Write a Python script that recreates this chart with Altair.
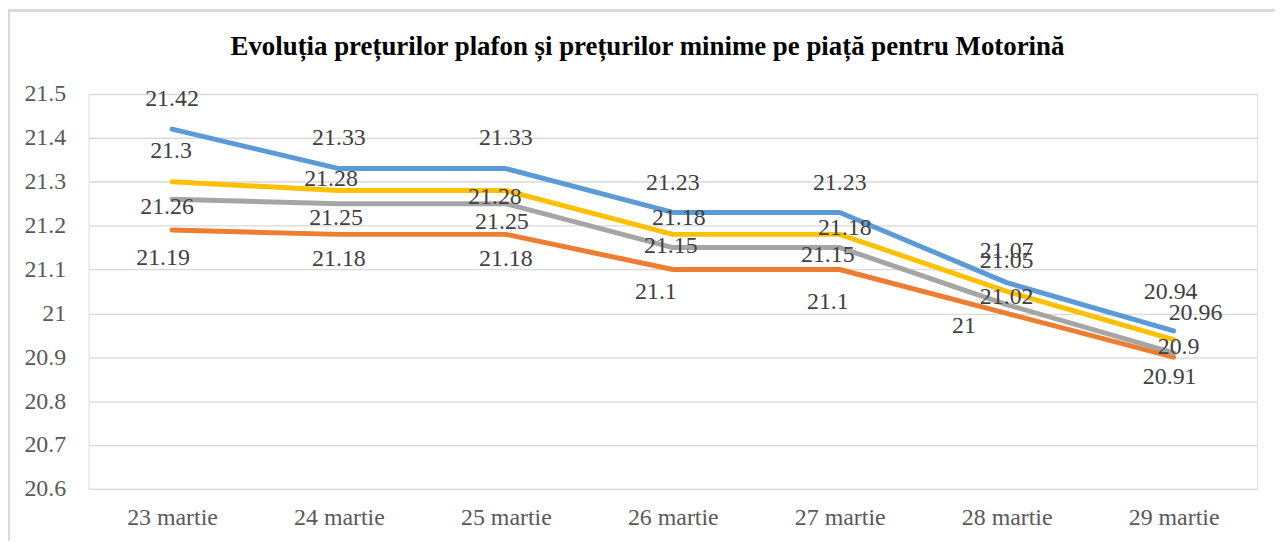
import altair as alt
import pandas as pd

# ---- data ----
dates = ["23 martie", "24 martie", "25 martie", "26 martie", "27 martie", "28 martie", "29 martie"]
series_names = ["Seria 1", "Seria 2", "Seria 3", "Seria 4"]
serie_albastra = [21.42, 21.33, 21.33, 21.23, 21.23, 21.07, 20.96]
serie_portocalie = [21.19, 21.18, 21.18, 21.10, 21.10, 21.00, 20.90]
serie_gri = [21.26, 21.25, 21.25, 21.15, 21.15, 21.02, 20.91]
serie_galbena = [21.30, 21.28, 21.28, 21.18, 21.18, 21.05, 20.94]
y_ticks = [20.6, 20.7, 20.8, 20.9, 21.0, 21.1, 21.2, 21.3, 21.4, 21.5]
title_text = "Evoluția prețurilor plafon și prețurilor minime pe piață pentru Motorină"

# ---- label placement (pixel offsets of each data label, as in the reference) ----
dx_albastra = [0, 0, 0, 0, 0, 0, 22]
dy_albastra = [-30, -31, -31, -30, -30, -32, -18]
dx_portocalie = [-9, 0, 0, -17, -12, -43, 5]
dy_portocalie = [28, 25, 25, 23, 33, 13, -10]
dx_gri = [-5, -3, -4, -2, -12, 0, -4]
dy_gri = [8, 14, 18, -2, 8, -8, 24]
dx_galbena = [-1, -8, -11, 6, 5, 0, -3]
dy_galbena = [-31, -12, 7, -16, -6, -31, -48]

colors = ["#5B9BD5", "#ED7D31", "#A5A5A5", "#FFC000"]
FONT = "Times New Roman, Liberation Serif, serif"

rows = []
for name, vals, dxs, dys in zip(
    series_names,
    [serie_albastra, serie_portocalie, serie_gri, serie_galbena],
    [dx_albastra, dx_portocalie, dx_gri, dx_galbena],
    [dy_albastra, dy_portocalie, dy_gri, dy_galbena],
):
    for d, v, dx, dy in zip(dates, vals, dxs, dys):
        rows.append({"data": d, "serie": name, "valoare": v, "eticheta": f"{v:g}", "dx": dx, "dy": dy})
df = pd.DataFrame(rows)

W, H = 1175, 397
PAD_L, PAD_T, PAD_R, PAD_B = 81, 85, 18, 52

x_enc = alt.X("data:N", sort=dates, title=None,
              scale=alt.Scale(type="point", padding=0.5),
              axis=alt.Axis(labelAngle=0, domain=False, ticks=False, labelPadding=17,
                            labelFont=FONT, labelFontSize=24, labelColor="#595959"))
y_enc = alt.Y("valoare:Q", title=None,
              scale=alt.Scale(domain=[20.6, 21.5], nice=False, zero=False),
              axis=alt.Axis(values=y_ticks, format=".1~f", domain=False, ticks=False,
                            labelPadding=23, labelFont=FONT, labelFontSize=24,
                            labelColor="#595959", gridColor="#D9D9D9", gridWidth=1.3))
color_enc = alt.Color("serie:N", scale=alt.Scale(domain=series_names, range=colors), legend=None)

lines = alt.Chart(df).mark_line(strokeWidth=5, strokeCap="round", strokeJoin="round").encode(
    x=x_enc, y=y_enc, color=color_enc, order=alt.Order("serie:N")
)

labels = alt.Chart(df).mark_text(
    font=FONT, fontSize=24, color="#404040", align="center", baseline="middle",
    dx=alt.ExprRef("datum.dx"), dy=alt.ExprRef("datum.dy"),
).encode(
    x=alt.X("data:N", sort=dates),
    y=alt.Y("valoare:Q"),
    text="eticheta:N",
)

title = alt.Chart(pd.DataFrame({"t": [title_text]})).mark_text(
    font=FONT, fontSize=27, fontWeight="bold", color="#000000",
    align="center", baseline="alphabetic",
).encode(x=alt.value(562), y=alt.value(-39), text="t:N")

border_top = alt.Chart(df).mark_rule(color="#D9D9D9", strokeWidth=1.5).encode(
    x=alt.value(-PAD_L), x2=alt.value(W + PAD_R), y=alt.value(-PAD_T + 1)
)
border_left = alt.Chart(df).mark_rule(color="#D9D9D9", strokeWidth=1.5).encode(
    x=alt.value(-PAD_L + 0.5), y=alt.value(-PAD_T + 1), y2=alt.value(H + PAD_B)
)

chart = alt.layer(border_top, border_left, lines, labels, title).properties(
    width=W, height=H,
    autosize=alt.AutoSizeParams(type="none"),
    padding={"left": PAD_L, "top": PAD_T, "right": PAD_R, "bottom": PAD_B},
).configure_view(stroke=None).configure(background="white")

chart.save("out.html", embed_options={"renderer": "svg", "actions": False})
